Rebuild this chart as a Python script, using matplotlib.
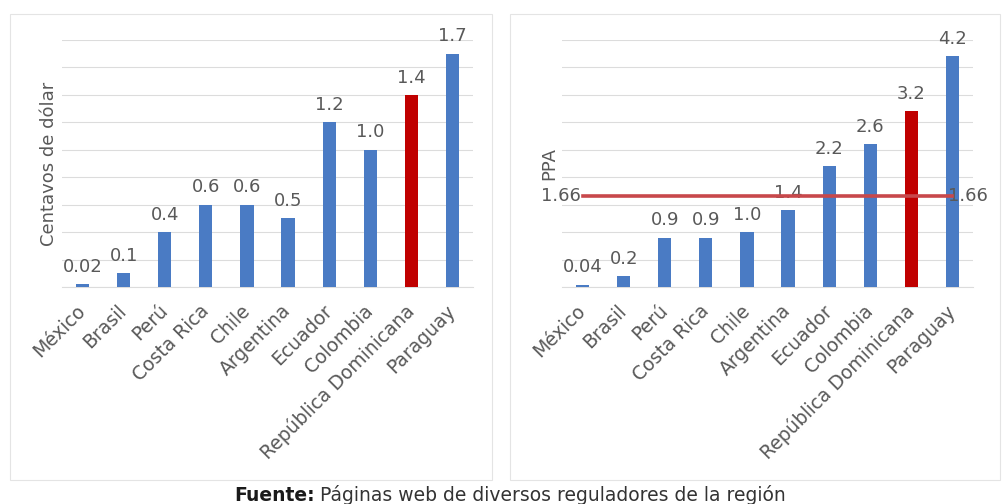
import matplotlib
matplotlib.use('Agg')
import matplotlib.pyplot as plt
from matplotlib.patches import Rectangle
import numpy as np

paises = ['México', 'Brasil', 'Perú', 'Costa Rica', 'Chile', 'Argentina',
          'Ecuador', 'Colombia', 'República Dominicana', 'Paraguay']
centavos = [0.02, 0.1, 0.4, 0.6, 0.6, 0.5, 1.2, 1.0, 1.4, 1.7]
ppa = [0.04, 0.2, 0.9, 0.9, 1.0, 1.4, 2.2, 2.6, 3.2, 4.2]
promedio_ppa = 1.66
destacado = 'República Dominicana'

AZUL = '#4a7bc4'
ROJO = '#c00000'
GRIS = '#595959'
REJILLA = '#dcdcdc'

plt.rcParams['font.family'] = 'DejaVu Sans'

fig = plt.figure(figsize=(10.05, 5.04), dpi=100)

# marcos de cada panel
for x0, x1 in [(10, 492), (510, 1000)]:
    fig.patches.append(Rectangle((x0 / 1005, 1 - 480 / 504), (x1 - x0) / 1005,
                                 (480 - 14) / 504, transform=fig.transFigure,
                                 fill=False, edgecolor='#e4e4e4', linewidth=0.8))


def etiqueta(v):
    return f'{v:.2f}' if v < 0.05 else f'{v:.1f}'


def panel(ax, valores, ymax, paso, ylabel):
    x = np.arange(len(paises))
    colores = [ROJO if p == destacado else AZUL for p in paises]
    ax.bar(x, valores, width=0.32, color=colores, zorder=3)
    for xi, v in zip(x, valores):
        ax.annotate(etiqueta(v), (xi, v), xytext=(0, 6), textcoords='offset points',
                    ha='center', va='bottom', fontsize=13, color=GRIS, zorder=4)
    ax.set_xlim(-0.5, len(paises) - 0.5)
    ax.set_ylim(0, ymax)
    ax.set_yticks(np.arange(0, ymax + paso / 2, paso))
    ax.yaxis.grid(True, color=REJILLA, linewidth=0.8, zorder=0)
    ax.tick_params(axis='y', left=False, labelleft=False)
    ax.tick_params(axis='x', length=0, pad=15)
    ax.set_xticks(x)
    ax.set_xticklabels(paises, rotation=45, ha='right', va='center',
                       rotation_mode='anchor', fontsize=13.5, color=GRIS)
    for s in ['top', 'right', 'left']:
        ax.spines[s].set_visible(False)
    ax.spines['bottom'].set_color(REJILLA)
    ax.set_ylabel(ylabel, fontsize=13, color=GRIS, labelpad=3)


ax1 = fig.add_axes([62 / 1005, 1 - 287 / 504, 411 / 1005, 247 / 504])
panel(ax1, centavos, 1.8, 0.2, 'Centavos de dólar')

ax2 = fig.add_axes([562 / 1005, 1 - 287 / 504, 411 / 1005, 247 / 504])
panel(ax2, ppa, 4.5, 0.5, 'PPA')

# linea del promedio en PPA
xs = np.arange(len(paises))
ax2.plot(xs, [promedio_ppa] * len(xs), color='#c8484b', linewidth=2.6, zorder=5)
ax2.annotate(f'{promedio_ppa:.2f}', (xs[0], promedio_ppa), xytext=(-1, 0),
             textcoords='offset points', ha='right', va='center',
             fontsize=13, color=GRIS, zorder=6)
ax2.annotate(f'{promedio_ppa:.2f}', (xs[-1], promedio_ppa), xytext=(-3, 0),
             textcoords='offset points', ha='left', va='center',
             fontsize=13, color=GRIS, zorder=4)

# fuente
fig.canvas.draw()
r = fig.canvas.get_renderer()
t1 = fig.text(0, 0, 'Fuente:', fontsize=13.5, fontweight='bold', color='#1a1a1a')
t2 = fig.text(0, 0, ' Páginas web de diversos reguladores de la región',
              fontsize=13.5, color='#333333')
w1 = t1.get_window_extent(r).width
w2 = t2.get_window_extent(r).width
x0 = 510 - (w1 + w2) / 2
yb = 504 - 501
t1.set_position((x0 / 1005, yb / 504))
t2.set_position(((x0 + w1) / 1005, yb / 504))

fig.savefig('out.png', dpi=100)
